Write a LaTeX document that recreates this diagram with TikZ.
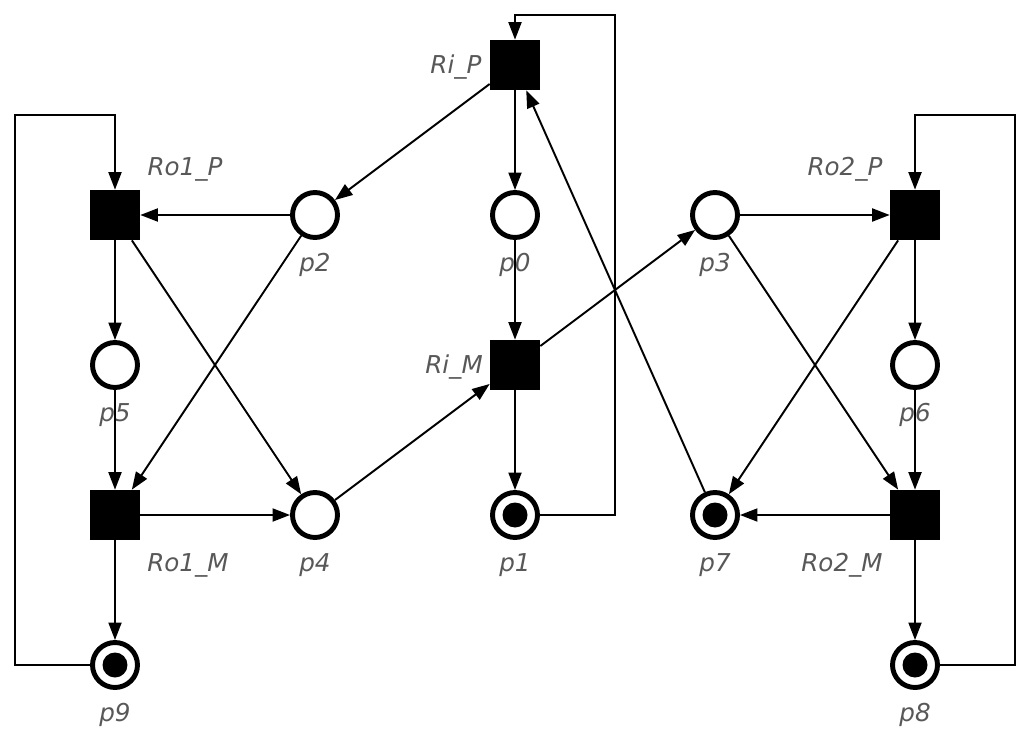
\documentclass[tikz,border=0pt]{standalone}
\usepackage{fontspec}
\setmainfont{DejaVu Sans}
\usetikzlibrary{arrows.meta}
\definecolor{labgray}{RGB}{88,88,88}
\begin{document}
\begin{tikzpicture}[x=0.02cm,y=-0.02cm,
  place/.style={circle,draw=black,line width=2.8pt,minimum size=0.9cm,inner sep=0pt},
  marked/.style={place,path picture={\fill[black] (path picture bounding box.center) circle (0.25cm);}},
  trans/.style={rectangle,fill=black,minimum size=1cm,inner sep=0pt},
  lab/.style={text=labgray,font=\fontsize{14}{16}\selectfont\itshape,inner sep=0pt},
  arc/.style={line width=1.1pt,-{Triangle[length=0.35cm,width=0.26cm]}},
  loop/.style={line width=1.1pt,-{Triangle[length=0.35cm,width=0.26cm]}}
]
\useasboundingbox (0,0) rectangle (1030,733);
% transitions
\node[trans] (RiP) at (515,65) {};
\node[trans] (Ro1P) at (115,215) {};
\node[trans] (Ro2P) at (915,215) {};
\node[trans] (RiM) at (515,365) {};
\node[trans] (Ro1M) at (115,515) {};
\node[trans] (Ro2M) at (915,515) {};
% places
\node[place] (p2) at (315,215) {};
\node[place] (p0) at (515,215) {};
\node[place] (p3) at (715,215) {};
\node[place] (p5) at (115,365) {};
\node[place] (p6) at (915,365) {};
\node[place] (p4) at (315,515) {};
\node[marked] (p1) at (515,515) {};
\node[marked] (p7) at (715,515) {};
\node[marked] (p9) at (115,665) {};
\node[marked] (p8) at (915,665) {};
% labels
\node[lab] (lRiP) at (456,67) {Ri\_P};
\node[lab] (lRiM) at (454,367) {Ri\_M};
\node[lab] (lRo1P) at (185,169) {Ro1\_P};
\node[lab] (lRo2P) at (845,169) {Ro2\_P};
\node[lab] (lRo1M) at (188,565) {Ro1\_M};
\node[lab] (lRo2M) at (842,565) {Ro2\_M};
\node[lab] (lp2) at (315,265) {p2};
\node[lab] (lp0) at (515,265) {p0};
\node[lab] (lp3) at (715,265) {p3};
\node[lab] (lp5) at (115,415) {p5};
\node[lab] (lp6) at (915,415) {p6};
\node[lab] (lp4) at (315,565) {p4};
\node[lab] (lp1) at (515,565) {p1};
\node[lab] (lp7) at (715,565) {p7};
\node[lab] (lp9) at (115,715) {p9};
\node[lab] (lp8) at (915,715) {p8};
% arcs
\draw[arc] (RiP) -- (p2);
\draw[arc] (RiP) -- (p0);
\draw[arc] (p0) -- (RiM);
\draw[arc] (p2) -- (Ro1P);
\draw[arc] (p2) -- (Ro1M);
\draw[arc] (Ro1P) -- (p5);
\draw[arc] (Ro1P) -- (p4);
\draw[arc] (p5) -- (Ro1M);
\draw[arc] (Ro1M) -- (p4);
\draw[arc] (Ro1M) -- (p9);
\draw[arc] (p4) -- (RiM);
\draw[arc] (RiM) -- (p3);
\draw[arc] (RiM) -- (p1);
\draw[arc] (p7) -- (RiP);
\draw[arc] (p3) -- (Ro2P);
\draw[arc] (p3) -- (Ro2M);
\draw[arc] (Ro2P) -- (p6);
\draw[arc] (Ro2P) -- (p7);
\draw[arc] (p6) -- (Ro2M);
\draw[arc] (Ro2M) -- (p7);
\draw[arc] (Ro2M) -- (p8);
% loops
\draw[loop] (p1.east) -| (615,15) -| (RiP.north);
\draw[loop] (p9.west) -| (15,115) -| (Ro1P.north);
\draw[loop] (p8.east) -| (1015,115) -| (Ro2P.north);
\end{tikzpicture}
\end{document}
